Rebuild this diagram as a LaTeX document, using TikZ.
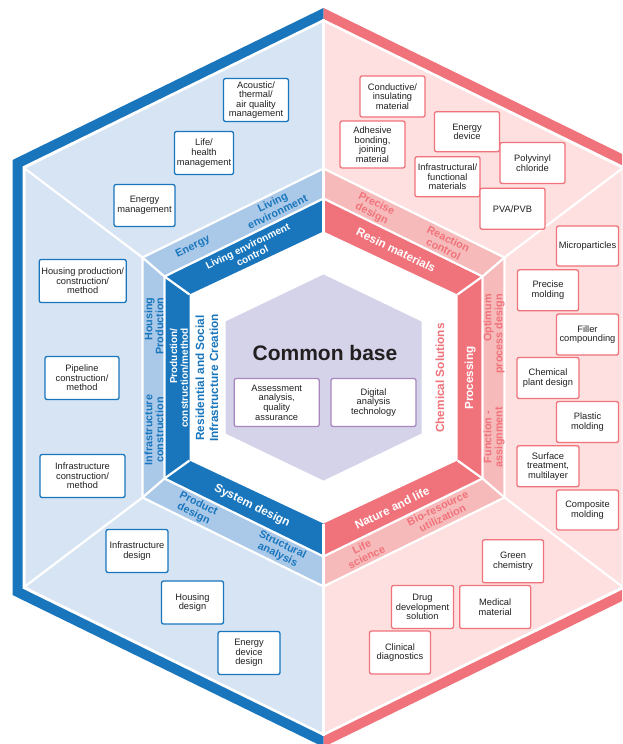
\documentclass[tikz,border=0pt]{standalone}
\usepackage{fontspec}
\setmainfont{Liberation Sans}
\usepackage{xcolor}

\definecolor{hexblue}{RGB}{25,118,189}
\definecolor{bandblue}{RGB}{170,201,233}
\definecolor{paleblue}{RGB}{214,228,244}
\definecolor{hexred}{RGB}{240,114,122}
\definecolor{bandred}{RGB}{247,186,186}
\definecolor{palered}{RGB}{253,224,223}
\definecolor{basefill}{RGB}{213,211,234}
\definecolor{baseline}{RGB}{167,135,189}
\definecolor{ink}{RGB}{35,31,32}

\tikzset{
  sep/.style={draw=white, line width=2.2pt},
  box/.style={draw, fill=white, rounded corners=2pt, line width=1.3pt, align=center,
    inner sep=1pt, text=ink, font=\fontsize{9.3}{9.6}\selectfont,
    minimum width=62pt, minimum height=42pt},
  bluebox/.style={box, draw=hexblue},
  redbox/.style={box, draw=hexred},
  basebox/.style={box, draw=baseline, minimum width=85pt, minimum height=48pt},
  darktag/.style={text=white, align=center, font=\bfseries\fontsize{11.7}{11}\selectfont},
  darktagtwo/.style={darktag, font=\bfseries\fontsize{10}{10.8}\selectfont},
  bluetag/.style={text=hexblue, align=center, font=\bfseries\fontsize{10.8}{11}\selectfont},
  redtag/.style={bluetag, text=hexred}
}

\begin{document}
\begin{tikzpicture}[x=1pt, y=-1pt]
    \useasboundingbox (0,0) rectangle (622,744);
    \clip (0,0) rectangle (622,744);

    % the hexagon, drawn around its centre
    \begin{scope}[shift={(323.5,377.5)}]
        % outer frame
        \fill[hexblue] (0,-369.5) -- (-311,-217.5) -- (-311,217.5) -- (0,369.5) -- cycle;
        \fill[hexred] (0,-369.5) -- (311,-217.5) -- (311,217.5) -- (0,369.5) -- cycle;
        \fill[white] (0,-358.5) -- (-301,-211) -- (-301,211) -- (0,358.5) -- (301,211) -- (301,-211) -- cycle;
        \fill[paleblue] (0,-355.5) -- (-298,-209) -- (-298,209) -- (0,355.5) -- cycle;
        \fill[palered] (0,-355.5) -- (298,-209) -- (298,209) -- (0,355.5) -- cycle;

        % light ring
        \fill[bandblue] (0,-209) -- (-181,-120) -- (-181,120) -- (0,209) -- cycle;
        \fill[bandred] (0,-209) -- (181,-120) -- (181,120) -- (0,209) -- cycle;
        % dark ring
        \fill[hexblue] (0,-179) -- (-159,-101) -- (-159,101) -- (0,179) -- cycle;
        \fill[hexred] (0,-179) -- (159,-101) -- (159,101) -- (0,179) -- cycle;
        \fill[white] (0,-146) -- (-134,-83) -- (-134,83) -- (0,146) -- (134,83) -- (134,-83) -- cycle;
        % common base
        \fill[basefill] (0,-103) -- (-98,-56) -- (-98,56) -- (0,103) -- (98,56) -- (98,-56) -- cycle;

        % white separators
        \draw[sep] (0,-209) -- (-181,-120) -- (-181,120) -- (0,209) -- (181,120) -- (181,-120) -- cycle;
        \draw[sep] (0,-179) -- (-159,-101) -- (-159,101) -- (0,179) -- (159,101) -- (159,-101) -- cycle;
        \foreach \sx in {-1,1}
            \foreach \sy in {-1,1}
                \draw[sep] (\sx*134,\sy*83) -- (\sx*159,\sy*101) -- (\sx*181,\sy*120) -- (\sx*300,\sy*210);
        \draw[sep] (0,-358.5) -- (0,-146);
        \draw[sep] (0,146) -- (0,358.5);
    \end{scope}

    % dark ring labels
    \node[darktagtwo, rotate=26] (livingctl) at (250,251) {Living environment\\control};
    \node[darktag, rotate=-26] (resin) at (396,250) {Resin materials};
    \node[darktagtwo, rotate=90, align=right] (prodmethod) at (179,378) {Production/\\construction/method};
    \node[darktag, rotate=90] (processing) at (470,378) {Processing};
    \node[darktag, rotate=-26] (sysdesign) at (252,506) {System design};
    \node[darktag, rotate=26] (nature) at (392,508) {Nature and life};

    % light ring labels
    \node[bluetag, rotate=26] (energytag) at (193,247) {Energy};
    \node[bluetag, rotate=26] (livingtag) at (275,207) {Living\\environment};
    \node[redtag, rotate=-26] (precisetag) at (374,209) {Precise\\design};
    \node[redtag, rotate=-26] (reactiontag) at (446,244) {Reaction\\control};
    \node[bluetag, rotate=90, align=right] (housingtag) at (154,326) {Housing\\Production};
    \node[bluetag, rotate=90] (infratag) at (154,430) {Infrastructure\\construction};
    \node[redtag, rotate=90, align=right] (optimumtag) at (494,334) {Optimum\\process design};
    \node[redtag, rotate=90] (functiontag) at (494,437) {Function -\\assignment};
    \node[bluetag, rotate=-26] (producttag) at (196,509) {Product\\design};
    \node[bluetag, rotate=-26] (structtag) at (280,550) {Structural\\analysis};
    \node[redtag, rotate=26] (lifetag) at (364,552) {Life\\science};
    \node[redtag, rotate=26] (biotag) at (440,513) {Bio-resource\\utilization};

    % side titles
    \node[text=hexblue, rotate=90, align=center, font=\bfseries\fontsize{11.8}{14}\selectfont] (residential) at (207,378) {Residential and Social\\Infrastructure Creation};
    \node[text=hexred, rotate=90, font=\bfseries\fontsize{11.8}{14}\selectfont] (chemical) at (440,378) {Chemical Solutions};

    % centre
    \node[text=ink, font=\bfseries\fontsize{21}{24}\selectfont] (commonbase) at (325,353) {Common base};
    \node[basebox] (assessment) at (276.7,402.5) {Assessment\\analysis,\\quality\\assurance};
    \node[basebox] (digital) at (373.5,402.5) {Digital\\analysis\\technology};

    % residential side
    \node[bluebox, minimum width=65pt, minimum height=43pt] (acoustic) at (256,100) {Acoustic/\\thermal/\\air quality\\management};
    \node[bluebox, minimum width=59pt, minimum height=43pt] (lifehealth) at (204,153) {Life/\\health\\management};
    \node[bluebox, minimum width=61pt] (energymgmt) at (144.5,205.5) {Energy\\management};
    \node[bluebox, minimum width=87pt, minimum height=43pt] (housingprod) at (82.7,281) {Housing production/\\construction/\\method};
    \node[bluebox, minimum width=74pt, minimum height=43pt] (pipeline) at (82,378) {Pipeline\\construction/\\method};
    \node[bluebox, minimum width=85pt, minimum height=43pt] (infraconst) at (82.5,476) {Infrastructure\\construction/\\method};
    \node[bluebox, minimum height=43pt] (infradesign) at (137,551) {Infrastructure\\design};
    \node[bluebox, minimum height=43pt] (housingdesign) at (192.5,602.5) {Housing\\design};
    \node[bluebox, minimum height=43pt] (energydevdesign) at (249,653) {Energy\\device\\design};

    % chemical side
    \node[redbox, minimum width=65pt, minimum height=41pt] (conductive) at (392.5,96.5) {Conductive/\\insulating\\material};
    \node[redbox, minimum width=65pt, minimum height=47pt] (adhesive) at (372.5,144.5) {Adhesive\\bonding,\\joining\\material};
    \node[redbox, minimum width=65pt, minimum height=40pt] (energydev) at (467,131.7) {Energy\\device};
    \node[redbox, minimum width=65pt, minimum height=40pt] (infrafunc) at (447.5,176.7) {Infrastructural/\\functional\\materials};
    \node[redbox, minimum width=65pt, minimum height=41pt] (pvc) at (532.5,163) {Polyvinyl\\chloride};
    \node[redbox, minimum width=65pt, minimum height=41pt] (pvapvb) at (512.5,208.7) {PVA/PVB};
    \node[redbox, minimum height=40pt] (microparticles) at (587.5,246) {Microparticles};
    \node[redbox, minimum width=61pt, minimum height=41pt] (precisemold) at (548,290.3) {Precise\\molding};
    \node[redbox, minimum height=41pt] (filler) at (587.5,334.5) {Filler\\compounding};
    \node[redbox, minimum height=41pt] (chemplant) at (548,378) {Chemical\\plant design};
    \node[redbox, minimum height=41pt] (plasticmold) at (587.5,422) {Plastic\\molding};
    \node[redbox, minimum height=41pt] (surface) at (548,466.2) {Surface\\treatment,\\multilayer};
    \node[redbox, minimum height=40pt] (composite) at (587.5,510) {Composite\\molding};
    \node[redbox, minimum width=61pt, minimum height=43pt] (green) at (513,561.3) {Green\\chemistry};
    \node[redbox, minimum height=43pt] (drug) at (422.5,607) {Drug\\development\\solution};
    \node[redbox, minimum width=71pt, minimum height=43pt] (medical) at (495.2,607) {Medical\\material};
    \node[redbox, minimum width=61pt, minimum height=43pt] (clinical) at (400,652.5) {Clinical\\diagnostics};
\end{tikzpicture}
\end{document}
